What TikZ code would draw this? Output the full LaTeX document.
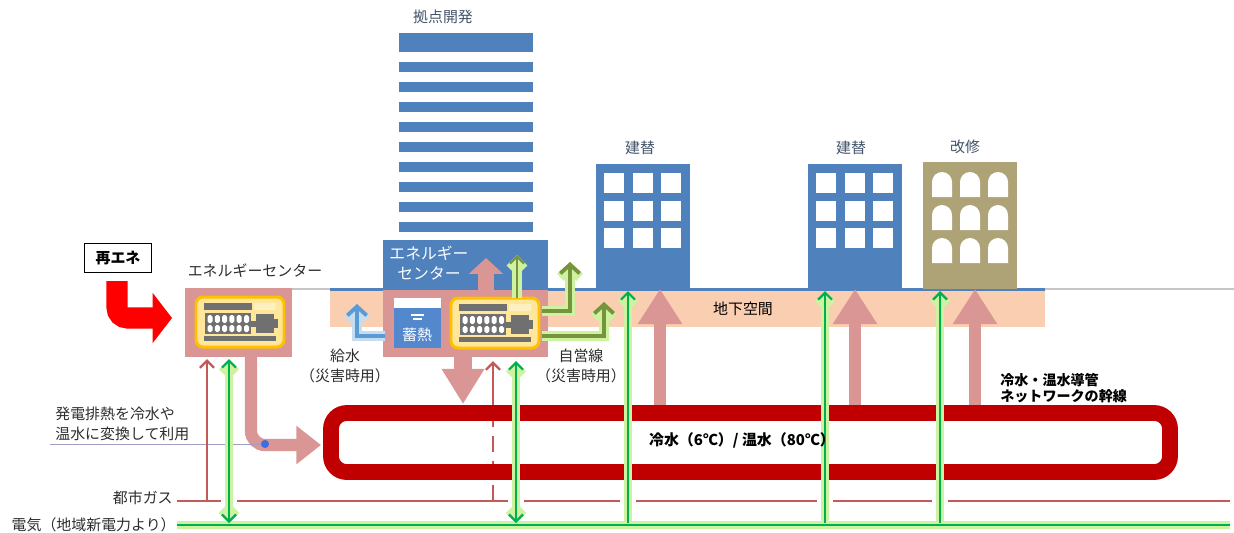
\documentclass[tikz,border=0pt]{standalone}
\usepackage{fontspec}
\setmainfont{Noto Sans CJK JP}
\usetikzlibrary{arrows.meta}

\definecolor{bldblue}{RGB}{79,129,189}
\definecolor{bldkhaki}{RGB}{173,163,118}
\definecolor{soil}{RGB}{250,206,176}
\definecolor{heatpink}{RGB}{218,150,148}
\definecolor{ringred}{RGB}{192,0,0}
\definecolor{gasred}{RGB}{196,90,88}
\definecolor{elecgreen}{RGB}{0,176,80}
\definecolor{glowgreen}{RGB}{205,242,160}
\definecolor{genolive}{RGB}{119,147,60}
\definecolor{waterblue}{RGB}{91,155,213}
\definecolor{storeblue}{RGB}{84,136,204}
\definecolor{genyellow}{RGB}{255,230,153}
\definecolor{genorange}{RGB}{255,192,0}
\definecolor{gengray}{RGB}{112,112,112}
\definecolor{slate}{RGB}{68,84,106}
\definecolor{txtgray}{RGB}{45,45,45}

\tikzset{
  lbl/.style={font=\fontsize{8.5}{11}\selectfont, text=txtgray, inner sep=0pt},
  bldlbl/.style={lbl, text=slate},
  heat/.style={draw=heatpink, line width=7pt, -{Triangle[width=24pt,length=20pt]}},
  power/.style={draw=elecgreen, line width=1.3pt, preaction={draw=glowgreen, line width=5pt}},
  gas/.style={draw=gasred, line width=1.4pt},
  selfline/.style={draw=genolive, line width=2.2pt, preaction={draw=glowgreen, line width=5.5pt}},
  water/.style={draw=waterblue, line width=2.2pt, preaction={draw=waterblue!35, line width=5.5pt}},
  barb/.tip={Straight Barb[length=4pt,width=8pt]},
}

% generator set in its yellow frame, #1,#2 = top left corner
\newcommand{\gensetbox}[2]{%
  \begin{scope}[shift={(#1,#2)}]
    \draw[genorange,fill=genyellow,line width=1.7pt,rounded corners=4pt] (0,0) rectangle (88,50);
    \fill[gengray] (8,6) rectangle (56,13);
    \fill[genyellow!60!white] (58,6) rectangle (80,13);
    \fill[gengray] (9,16) rectangle (55,37);
    \foreach \c in {0,...,5}{
      \fill[white,rounded corners=1pt] (11.5+7.3*\c,18) rectangle +(5,8);
      \fill[white,rounded corners=1pt] (11.5+7.3*\c,28) rectangle +(5,7);
    }
    \fill[gengray] (55,24) rectangle (60,30);
    \fill[gengray] (60,17) rectangle (78,36);
    \fill[gengray] (78,22) rectangle (82,31);
    \fill[gengray] (8,39) rectangle (80,44);
  \end{scope}}

\begin{document}
\begin{tikzpicture}[x=0.02cm,y=-0.02cm]
\useasboundingbox (0,0) rectangle (1234,532);

% underground space and ground level
\fill[soil] (330,290) rectangle (1045,327);
\draw[gray!45,line width=0.6pt] (290,289) -- (1234,289);
\draw[bldblue,line width=1.7pt] (330,289) -- (1045,289);
\node[lbl,text=black] (under) at (743,309) {地下空間};

% tower
\fill[bldblue] (399,33) rectangle (533,52);
\foreach \i in {0,...,8}
  \fill[bldblue] (399,62+20*\i) rectangle (533,72+20*\i);
\node[bldlbl] (tower) at (443,17) {拠点開発};

% rebuilt blocks
\foreach \bx in {596,808}{
  \fill[bldblue] (\bx,164) rectangle +(94,125);
  \foreach \cx in {8,37,65}
    \foreach \ry in {9,37,64}
      \fill[white] (\bx+\cx,164+\ry) rectangle +(20,20);
}
\node[bldlbl] (rebuilda) at (640,148) {建替};
\node[bldlbl] (rebuildb) at (851,148) {建替};

% renovated block
\fill[bldkhaki] (923,162) rectangle (1017,289);
\foreach \cx in {932,960,988}
  \foreach \ry in {172,205,238}
    \fill[white] (\cx,\ry+25) -- (\cx,\ry+10) arc[start angle=180,end angle=360,radius=10] -- (\cx+20,\ry+25) -- cycle;
\node[bldlbl] (renov) at (965,147) {改修};

% energy centre in the tower
\fill[bldblue] (383,240) rectangle (548,290);
\fill[heatpink] (383,290) rectangle (548,357);
\node[lbl,text=white,align=center,font=\fontsize{9}{11.5}\selectfont] (ectr) at (429,263) {エネルギー\\センター};
\fill[storeblue] (394,298) rectangle (441,348);
\fill[white] (394,298) rectangle (441,308);
\draw[white,line width=0.8pt] (411,315) -- (424,315) (413,319) -- (422,319);
\node[lbl,text=white] (store) at (417,335) {蓄熱};
\gensetbox{451}{298}

% energy centre on the left
\fill[heatpink] (185,288) rectangle (292,357);
\gensetbox{196}{297}
\node[lbl] (ectl) at (255,271) {エネルギーセンター};

% renewables
\node[draw=black,line width=0.6pt,minimum width=38pt,minimum height=17pt,font=\bfseries\fontsize{8.5}{10}\selectfont] (renew) at (118,258) {再エネ};
\draw[red,line width=12pt,rounded corners=6pt,-{Triangle[width=28pt,length=11pt]}] (117,281) |- (172,318);

% heat flows
\draw[heat] (660,406) -- (660,289);
\draw[heat] (855,406) -- (855,289);
\draw[heat] (975,406) -- (975,289);
\draw[heat,line width=9pt,-{Triangle[width=19pt,length=9pt]}] (486,292) -- (486,258);
\draw[heat,line width=10pt,-{Triangle[width=23pt,length=20pt]}] (463,355) -- (463,404);
\draw[heat,rounded corners=8pt,-{Triangle[width=21pt,length=14pt]}] (251,355) |- (321,445);
\draw[blue!25!gray!60,line width=0.5pt] (50,444) -- (265,444);
\fill[waterblue!70!blue] (265,444) circle (2.3pt);

% private line and water supply
\draw[selfline,-{Straight Barb[length=5pt,width=11pt]}] (542,311) -| (570,262);
\draw[selfline,-{Straight Barb[length=5pt,width=11pt]}] (542,336) -| (604,302);
\draw[selfline,line width=1.3pt,-{Straight Barb[length=4pt,width=8pt]}] (517,298) -- (517,255);
\draw[water,-{Straight Barb[length=5pt,width=11pt]}] (385,336) -| (357,304);

% city gas
\draw[gas] (177,501) -- (1230,501);
\foreach \gx in {229,516,628,825,940}
  \fill[white] (\gx-8,497) rectangle (\gx+8,505);
\draw[gas,-barb] (207,501) -- (207,359);
\draw[gas,dash pattern=on 9pt off 5pt] (493,501) -- (493,405);
\draw[gas,-barb] (493,405) -- (493,361);

% hot / chilled water loop
\draw[ringred,line width=9pt,rounded corners=9pt] (331,413) rectangle (1170,472);

% electricity
\draw[power] (177,525) -- (1230,525);
\draw[power,barb-barb] (229,523) -- (229,359);
\draw[power,barb-barb] (516,523) -- (516,361);
\foreach \px in {628,825,940}
  \draw[power,-barb] (\px,523) -- (\px,291);

% labels
\node[lbl,text=black,font=\bfseries\fontsize{8.5}{10}\selectfont] (loop) at (742,440) {冷水（6℃）/ 温水（80℃）};
\node[lbl,align=center] (supply) at (345,366) {給水\\（災害時用）};
\node[lbl,align=center] (private) at (581,366) {自営線\\（災害時用）};
\node[lbl,align=left,anchor=west] (waste) at (55,424) {発電排熱を冷水や\\温水に変換して利用};
\node[lbl,anchor=east] (gaslbl) at (173,498) {都市ガス};
\node[lbl,anchor=east] (eleclbl) at (176,525) {電気（地域新電力より）};
\node[lbl,text=black,align=left,anchor=west,font=\bfseries\fontsize{8}{9}\selectfont] (trunk) at (1000,388) {冷水・温水導管\\ネットワークの幹線};
\end{tikzpicture}
\end{document}
